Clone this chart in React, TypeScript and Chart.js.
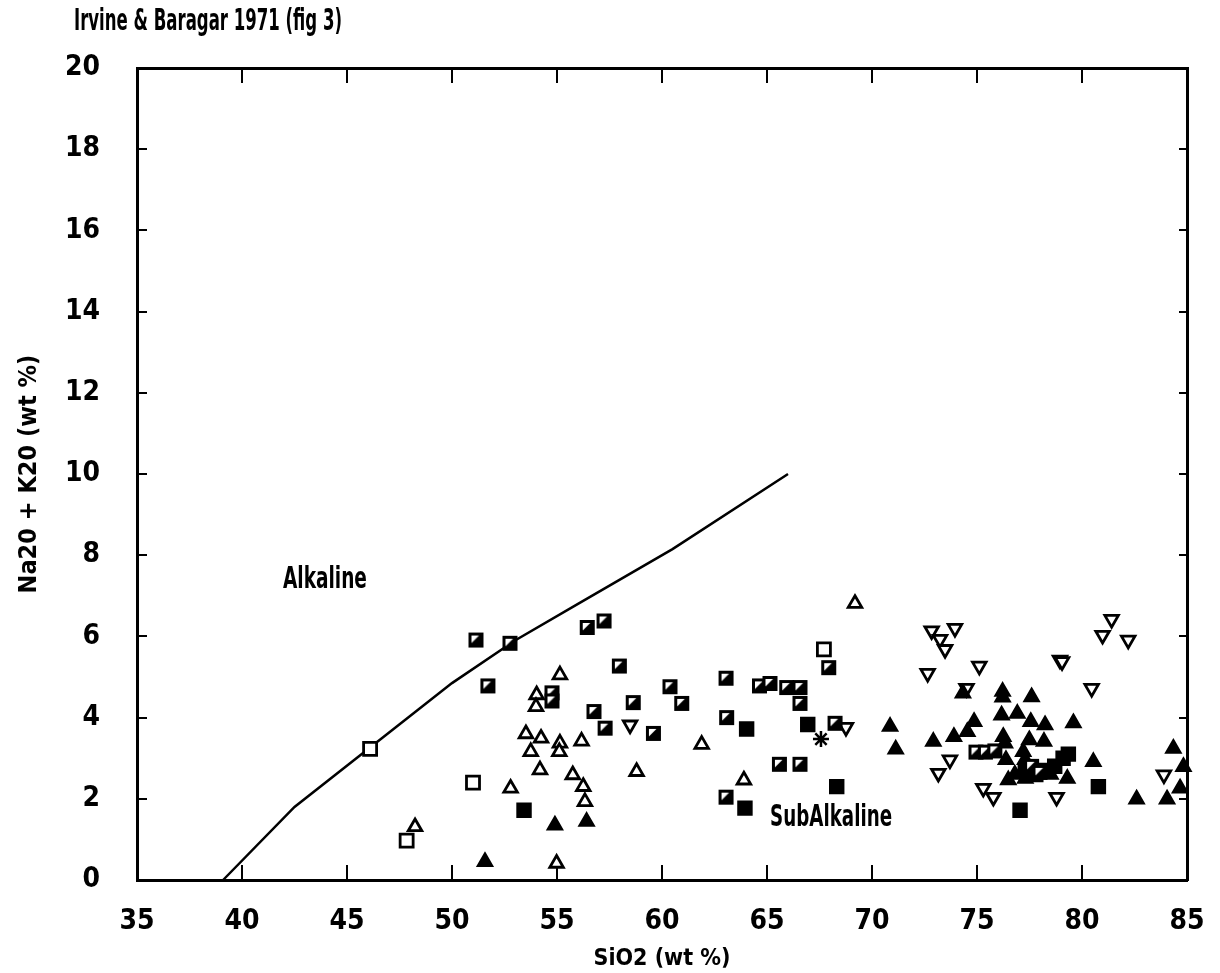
import React, { useEffect, useRef } from "react";
import { Chart, registerables } from "chart.js";

Chart.register(...registerables);

const TITLE = "Irvine & Baragar 1971 (fig 3)";
const X_TITLE = "SiO2 (wt %)";
const Y_TITLE = "Na20 + K20 (wt %)";
const X_RANGE = [35, 85];
const Y_RANGE = [0, 20];
const X_STEP = 5;
const Y_STEP = 2;

const alkalineLabel = { text: "Alkaline", x: 43.95, y: 7.39 };
const subAlkalineLabel = { text: "SubAlkaline", x: 68.05, y: 1.53 };

// Irvine & Baragar dividing line
const boundaryX = [39.1, 42.5, 50, 53, 56, 60.5, 66];
const boundaryY = [0, 1.8, 4.85, 5.9, 6.8, 8.15, 10];

const halfSquares: [number, number][] = [
  [51.14, 5.91], [52.76, 5.83], [56.44, 6.22], [57.24, 6.38], [57.97, 5.27],
  [51.71, 4.78], [54.76, 4.61], [54.76, 4.41], [58.63, 4.37], [56.76, 4.15],
  [57.29, 3.74], [59.59, 3.61], [60.38, 4.76], [60.94, 4.35], [63.05, 4.97],
  [63.08, 4.0], [63.05, 2.04], [64.64, 4.78], [65.14, 4.84], [65.94, 4.74],
  [66.57, 4.74], [66.57, 4.35], [65.59, 2.85], [66.57, 2.85], [67.94, 5.23],
  [68.24, 3.86], [74.95, 3.15], [75.4, 3.15], [75.85, 3.18], [77.6, 2.8],
  [78.0, 2.65],
];

const openSquares: [number, number][] = [
  [46.1, 3.23], [51.0, 2.4], [47.84, 0.97], [67.71, 5.68],
];

const filledSquares: [number, number][] = [
  [53.43, 1.72], [64.03, 3.72], [63.95, 1.77], [66.94, 3.83], [68.32, 2.3],
  [80.78, 2.3], [77.05, 1.72], [77.3, 2.7], [77.8, 2.6], [78.3, 2.7],
  [78.7, 2.8], [79.1, 3.0], [79.35, 3.1],
];

const openTriangles: [number, number][] = [
  [55.14, 5.05], [54.03, 4.56], [54.0, 4.27], [53.52, 3.6], [54.24, 3.49],
  [53.75, 3.16], [55.14, 3.37], [55.11, 3.16], [56.17, 3.42], [54.19, 2.71],
  [55.75, 2.59], [56.25, 2.3], [56.33, 1.93], [52.79, 2.26], [48.24, 1.31],
  [58.79, 2.67], [54.98, 0.41], [61.89, 3.34], [63.9, 2.46], [69.19, 6.81],
];

const filledTriangles: [number, number][] = [
  [54.9, 1.35], [56.41, 1.44], [51.57, 0.45], [70.86, 3.78], [71.13, 3.22],
  [72.92, 3.41], [73.9, 3.53], [74.54, 3.65], [74.86, 3.9], [74.33, 4.6],
  [76.22, 4.64], [76.22, 4.5], [77.6, 4.51], [76.17, 4.06], [76.92, 4.1],
  [77.56, 3.9], [78.24, 3.82], [79.59, 3.87], [77.49, 3.45], [78.19, 3.41],
  [76.25, 3.53], [76.33, 3.37], [76.38, 2.96], [77.2, 3.16], [77.29, 2.96],
  [76.49, 2.46], [79.3, 2.5], [80.54, 2.91], [82.6, 1.99], [84.05, 1.99],
  [84.35, 3.24], [84.83, 2.79], [84.67, 2.26], [76.8, 2.6], [77.3, 2.5],
  [78.5, 2.6], [77.3, 2.79],
];

const invTriangles: [number, number][] = [
  [58.48, 3.82], [68.76, 3.76], [72.84, 6.14], [73.95, 6.2], [73.24, 5.93],
  [73.48, 5.68], [72.65, 5.09], [75.11, 5.27], [73.71, 2.96], [73.16, 2.63],
  [75.3, 2.26], [75.78, 2.04], [74.5, 4.72], [78.79, 2.04], [78.95, 5.42],
  [79.05, 5.38], [80.46, 4.72], [81.41, 6.42], [80.98, 6.03], [82.2, 5.91],
  [83.9, 2.59],
];

const asterisks: [number, number][] = [[67.57, 3.47]];

const FONT_FAMILY = '"DejaVu Sans Condensed", "Liberation Sans Narrow", sans-serif';

function toPoints(arr: [number, number][]) {
  return arr.map(([x, y]) => ({ x, y }));
}

function makeHalfSquare(): HTMLCanvasElement {
  const c = document.createElement("canvas");
  c.width = 17;
  c.height = 17;
  const g = c.getContext("2d")!;
  g.fillStyle = "#000";
  g.fillRect(1, 1, 15, 15);
  g.fillStyle = "#fff";
  g.beginPath();
  g.moveTo(4, 4);
  g.lineTo(11.5, 4);
  g.lineTo(4, 11.5);
  g.closePath();
  g.fill();
  return c;
}

function drawCondensed(
  ctx: CanvasRenderingContext2D,
  text: string,
  cx: number,
  cy: number,
  targetWidth: number,
  align: "left" | "center"
) {
  const w = ctx.measureText(text).width;
  const s = targetWidth / w;
  ctx.save();
  ctx.translate(cx, cy);
  ctx.scale(s, 1);
  ctx.textAlign = align;
  ctx.fillText(text, 0, 0);
  ctx.restore();
}

const textPlugin = {
  id: "textPlugin",
  afterDraw(chart: any) {
    const ctx = chart.ctx as CanvasRenderingContext2D;
    const xs = chart.scales.x;
    const ys = chart.scales.y;
    ctx.save();
    ctx.fillStyle = "#000";
    ctx.font = `bold 30px ${FONT_FAMILY}`;
    ctx.textBaseline = "middle";
    drawCondensed(ctx, TITLE, 74, 22, 268, "left");
    drawCondensed(ctx, alkalineLabel.text, xs.getPixelForValue(alkalineLabel.x), ys.getPixelForValue(alkalineLabel.y), 84, "center");
    drawCondensed(ctx, subAlkalineLabel.text, xs.getPixelForValue(subAlkalineLabel.x), ys.getPixelForValue(subAlkalineLabel.y), 122, "center");
    ctx.restore();
  },
};

export default function App() {
  const canvasRef = useRef<HTMLCanvasElement | null>(null);

  useEffect(() => {
    if (!canvasRef.current) return;
    const half = makeHalfSquare();
    const tickFont = { family: FONT_FAMILY, size: 28, weight: "bold" as const };
    const common = { clip: false as const };

    const chart = new Chart(canvasRef.current, {
      type: "scatter",
      data: {
        datasets: [
          {
            label: "boundary",
            data: boundaryX.map((x, i) => ({ x, y: boundaryY[i] })),
            showLine: true,
            borderColor: "#000",
            borderWidth: 2.5,
            pointRadius: 0,
            tension: 0,
            fill: false,
            order: 10,
            ...common,
          },
          {
            label: "half squares",
            data: toPoints(halfSquares),
            pointStyle: half as any,
            pointRadius: 8.5,
            ...common,
          },
          {
            label: "open squares",
            data: toPoints(openSquares),
            pointStyle: "rect",
            pointRadius: 9.2,
            backgroundColor: "#fff",
            borderColor: "#000",
            borderWidth: 2.8,
            ...common,
          },
          {
            label: "filled squares",
            data: toPoints(filledSquares),
            pointStyle: "rect",
            pointRadius: 9.5,
            backgroundColor: "#000",
            borderColor: "#000",
            borderWidth: 2,
            ...common,
          },
          {
            label: "open triangles",
            data: toPoints(openTriangles),
            pointStyle: "triangle",
            pointRadius: 7.8,
            backgroundColor: "#fff",
            borderColor: "#000",
            borderWidth: 2.8,
            ...common,
          },
          {
            label: "filled triangles",
            data: toPoints(filledTriangles),
            pointStyle: "triangle",
            pointRadius: 8,
            backgroundColor: "#000",
            borderColor: "#000",
            borderWidth: 2.5,
            ...common,
          },
          {
            label: "inverted triangles",
            data: toPoints(invTriangles),
            pointStyle: "triangle",
            rotation: 180,
            pointRadius: 7.8,
            backgroundColor: "#fff",
            borderColor: "#000",
            borderWidth: 2.8,
            ...common,
          },
          {
            label: "asterisk",
            data: toPoints(asterisks),
            pointStyle: "star",
            pointRadius: 8,
            borderColor: "#000",
            borderWidth: 2.5,
            ...common,
          },
        ],
      },
      options: {
        responsive: false,
        animation: false,
        devicePixelRatio: 1,
        layout: { padding: { top: 68, left: 0, right: 0, bottom: 0 } },
        plugins: {
          legend: { display: false },
          tooltip: { enabled: false },
          title: { display: false },
        },
        scales: {
          x: {
            type: "linear",
            position: "bottom",
            min: X_RANGE[0],
            max: X_RANGE[1],
            ticks: { stepSize: X_STEP, font: tickFont, color: "#000", padding: 40, maxRotation: 0 },
            grid: { drawOnChartArea: false, drawTicks: true, tickLength: -15, color: "#000", lineWidth: 2 },
            border: { display: true, color: "#000", width: 3 },
            title: {
              display: true,
              text: X_TITLE,
              color: "#000",
              font: { family: FONT_FAMILY, size: 23, weight: "bold" },
              padding: { top: 0, bottom: 0 },
            },
            afterFit: (s: any) => {
              s.height = 93;
              s.paddingLeft = 0;
              s.paddingRight = 0;
            },
          },
          x2: {
            type: "linear",
            position: "top",
            min: X_RANGE[0],
            max: X_RANGE[1],
            ticks: { stepSize: X_STEP, display: false },
            grid: { drawOnChartArea: false, drawTicks: true, tickLength: -15, color: "#000", lineWidth: 2 },
            border: { display: true, color: "#000", width: 3 },
            afterFit: (s: any) => {
              s.height = 0;
              s.paddingLeft = 0;
              s.paddingRight = 0;
            },
          },
          y: {
            type: "linear",
            position: "left",
            min: Y_RANGE[0],
            max: Y_RANGE[1],
            ticks: { stepSize: Y_STEP, font: tickFont, color: "#000", padding: 47 },
            grid: { drawOnChartArea: false, drawTicks: true, tickLength: -10, color: "#000", lineWidth: 2 },
            border: { display: true, color: "#000", width: 3 },
            title: {
              display: true,
              text: Y_TITLE,
              color: "#000",
              font: { family: FONT_FAMILY, size: 25, weight: "bold" },
              padding: { top: 14, bottom: 0 },
            },
            afterFit: (s: any) => {
              s.width = 137;
              s.paddingTop = 0;
              s.paddingBottom = 0;
            },
          },
          y2: {
            type: "linear",
            position: "right",
            min: Y_RANGE[0],
            max: Y_RANGE[1],
            ticks: { stepSize: Y_STEP, display: false },
            grid: { drawOnChartArea: false, drawTicks: true, tickLength: -8, color: "#000", lineWidth: 2 },
            border: { display: true, color: "#000", width: 3 },
            afterFit: (s: any) => {
              s.width = 33;
              s.paddingTop = 0;
              s.paddingBottom = 0;
            },
          },
        },
      },
      plugins: [textPlugin],
    });

    return () => {
      chart.destroy();
    };
  }, []);

  return (
    <div style={{ position: "absolute", left: 0, top: 0, width: 1220, height: 973, background: "#fff" }}>
      <canvas ref={canvasRef} width={1220} height={973} style={{ display: "block" }} />
    </div>
  );
}
